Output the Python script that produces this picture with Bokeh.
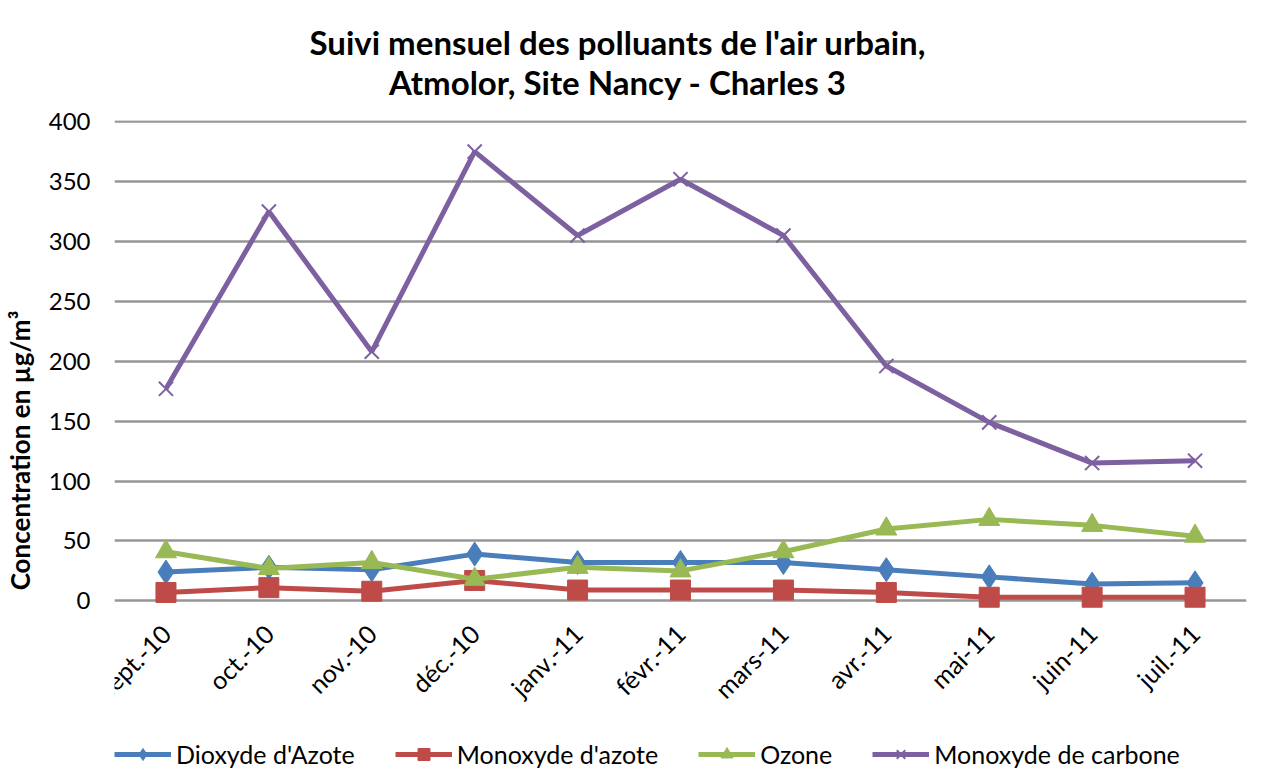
from math import pi
from bokeh.plotting import figure
from bokeh.models import FactorRange, Range1d, Legend, LegendItem, Title, FixedTicker
from bokeh.embed import file_html
from bokeh.resources import INLINE

months = ["sept.-10", "oct.-10", "nov.-10", "déc.-10", "janv.-11", "févr.-11",
          "mars-11", "avr.-11", "mai-11", "juin-11", "juil.-11"]
no2 = [24, 28, 26, 39, 32, 32, 32, 26, 20, 14, 15]
no = [7, 11, 8, 17, 9, 9, 9, 7, 3, 3, 3]
ozone = [41, 27, 32, 18, 28, 25, 41, 60, 68, 63, 54]
co = [177, 325, 208, 375, 305, 352, 305, 196, 149, 115, 117]
y_ticks = [0, 50, 100, 150, 200, 250, 300, 350, 400]
title_lines = ["Suivi mensuel des polluants de l'air urbain,",
               "Atmolor, Site Nancy - Charles 3"]

FONT = "Lato"

p = figure(x_range=FactorRange(*months), y_range=Range1d(-150, 401),
           frame_width=1132, frame_height=660, output_backend="svg", toolbar_location=None,
           min_border_left=0, min_border_right=10, min_border_top=0,
           min_border_bottom=0)
p.outline_line_color = None
p.background_fill_color = "white"
p.border_fill_color = "white"

p.add_layout(Title(text="\n".join(title_lines), align="left", offset=195,
                   text_align="center",
                   text_font=FONT, text_font_size="33px", text_font_style="bold",
                   text_color="black", standoff=38), "above")

p.xgrid.grid_line_color = None
p.ygrid.grid_line_color = "#969696"
p.ygrid.grid_line_width = 2.5
p.yaxis.ticker = FixedTicker(ticks=y_ticks)

for ax in (p.xaxis[0], p.yaxis[0]):
    ax.axis_line_color = None
    ax.major_tick_line_color = None
    ax.minor_tick_line_color = None
    ax.major_label_text_font = FONT
    ax.major_label_text_color = "black"
p.yaxis.major_label_text_font_size = "24px"
p.xaxis.major_label_text_font_size = "25px"

p.yaxis.axis_label = "Concentration en µg/m³"
p.yaxis.axis_label_text_font = FONT
p.yaxis.axis_label_text_font_size = "26px"
p.yaxis.axis_label_text_font_style = "bold"
p.yaxis.axis_label_text_color = "black"
p.yaxis.axis_label_standoff = 10
p.yaxis.major_label_standoff = 18
p.xaxis.major_label_orientation = pi / 4
p.xaxis.major_label_standoff = 22
p.xaxis.fixed_location = 0

series = [
    ("Dioxyde d'Azote", no2, "#4A7EBB", "diamond", 24),
    ("Monoxyde d'azote", no, "#BE4B48", "square", 20),
    ("Ozone", ozone, "#98B954", "triangle", 21),
    ("Monoxyde de carbone", co, "#7D60A0", "x", 20),
]

items = []
for name, vals, color, marker, size in series:
    r1 = p.line(months, vals, line_color=color, line_width=5)
    if marker == "x":
        r2 = p.scatter(months, vals, marker="x", size=size, line_color=color, line_width=2)
    else:
        r2 = p.scatter(months, vals, marker=marker, size=size, fill_color=color,
                       line_color=color)
    items.append(LegendItem(label=name, renderers=[r1, r2]))

legend = Legend(items=items, orientation="horizontal", location=(0, 11),
                label_text_font=FONT, label_text_font_size="25px",
                label_text_color="black", glyph_width=57, glyph_height=30,
                spacing=40, border_line_color=None, background_fill_alpha=0,
                label_standoff=5, margin=0, padding=0)
p.add_layout(legend, "center")

open("out.html", "w").write(file_html(p, INLINE))
